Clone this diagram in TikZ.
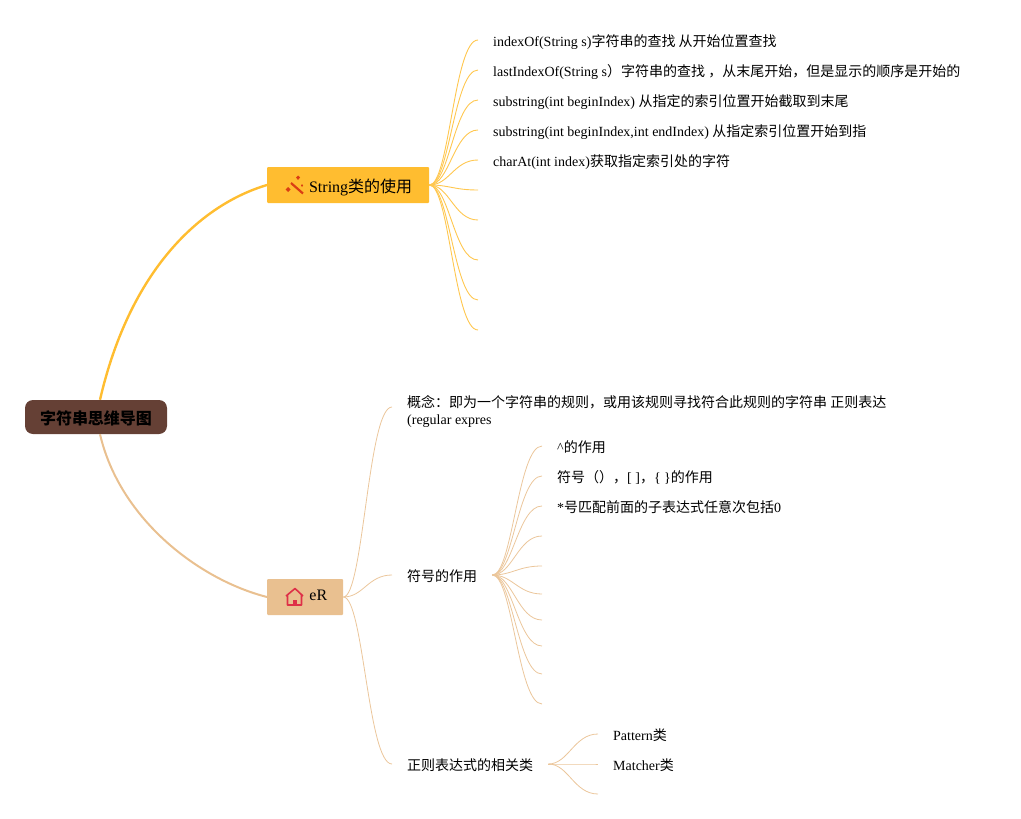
\documentclass[tikz,border=0pt]{standalone}
\usepackage{fontspec}
\setmainfont{Liberation Serif}
\newfontfamily\cjk{Noto Sans CJK SC}
\newcommand{\zh}[1]{{\cjk #1}}
\usetikzlibrary{positioning}
\definecolor{rootbrown}{RGB}{101,64,53}
\definecolor{stringgold}{RGB}{255,189,48}
\definecolor{ertan}{RGB}{233,192,144}
\definecolor{iconred}{RGB}{222,48,72}
\definecolor{wandred}{RGB}{218,62,20}
\tikzstyle{root} = [rectangle, rounded corners=8pt, minimum width=142pt, minimum height=34pt, inner sep=0pt, text height=16pt, text depth=1pt, fill=rootbrown, font=\fontsize{16}{19}\selectfont\bfseries]
\tikzstyle{topic} = [rectangle, rounded corners=1pt, minimum height=36pt, inner ysep=0pt, align=right, font=\fontsize{16}{19}\selectfont]
\tikzstyle{leaf} = [inner xsep=15pt, inner ysep=0pt, text height=14pt, text depth=1pt, anchor=west, font=\fontsize{14}{17}\selectfont]
\tikzset{curve/.style={to path={.. controls ([xshift=20pt]\tikztostart) and ([xshift=-24pt]\tikztotarget) .. (\tikztotarget)}}}
\tikzstyle{goldline} = [draw=stringgold!85, line width=0.9pt]
\tikzstyle{tanline} = [draw=ertan!90, line width=0.8pt]
\begin{document}
\begin{tikzpicture}[x=1pt, y=-1pt]
\useasboundingbox (0,0) rectangle (1021,819);
% Main nodes
\node (mapname) [root] at (96,417) {\zh{字符串思维导图}};
\node (stringuse) [topic, fill=stringgold, anchor=west, text width=128pt, inner xsep=17pt, text height=16pt, text depth=2pt] at (267,185) {String\zh{类的使用}};
\node (er) [topic, fill=ertan, anchor=west, text width=44pt, inner xsep=16pt, text height=10pt, text depth=3pt] at (267,597) {eR};

% Main branches
\draw[stringgold, line width=2.4pt] ([xshift=4pt]mapname.north) .. controls (130,270) and (200,205) .. (stringuse.west);
\draw[ertan, line width=2pt] ([xshift=4pt]mapname.south) .. controls (120,520) and (200,580) .. (er.west);

% String leaves
\node (indexof) [leaf] at (478,40) {indexOf(String s)\zh{字符串的查找 从开始位置查找}};
\node (lastindexof) [leaf] at (478,70) {lastIndexOf(String s\zh{）字符串的查找 ，从末尾开始，但是显示的顺序是开始的}};
\node (substrone) [leaf] at (478,100) {substring(int beginIndex) \zh{从指定的索引位置开始截取到末尾}};
\node (substrtwo) [leaf] at (478,130) {substring(int beginIndex,int endIndex) \zh{从指定索引位置开始到指}};
\node (charat) [leaf] at (478,160) {charAt(int index)\zh{获取指定索引处的字符}};
\coordinate (stringsix) at (478,190);
\coordinate (stringseven) at (478,220);
\coordinate (stringeight) at (478,260);
\coordinate (stringnine) at (478,300);
\coordinate (stringten) at (478,330);
\foreach \leafname in {indexof.west, lastindexof.west, substrone.west, substrtwo.west, charat.west, stringsix, stringseven, stringeight, stringnine, stringten}
  \draw[goldline] (stringuse.east) to[curve] (\leafname);

% eR children
\node (concept) [leaf, text height=, text depth=, align=left] at (392,411.5) {\zh{概念：即为一个字符串的规则，或用该规则寻找符合此规则的字符串 正则表达}\\(regular expres};
\node (symbols) [leaf] at (392,575) {\zh{符号的作用}};
\node (classes) [leaf] at (392,764) {\zh{正则表达式的相关类}};
\draw[tanline] (er.east) to[curve] ([yshift=4.5pt]concept.west);
\draw[tanline] (er.east) to[curve] (symbols.west);
\draw[tanline] (er.east) to[curve] (classes.west);

% Symbol leaves
\node (caret) [leaf] at (542,446) {\^{}\zh{的作用}};
\node (brackets) [leaf] at (542,476) {\zh{符号（），}[ ]\zh{，}\{ \}\zh{的作用}};
\node (star) [leaf] at (542,506) {*\zh{号匹配前面的子表达式任意次包括}0};
\coordinate (symbolfour) at (542,536);
\coordinate (symbolfive) at (542,566);
\coordinate (symbolsix) at (542,594);
\coordinate (symbolseven) at (542,620);
\coordinate (symboleight) at (542,646);
\coordinate (symbolnine) at (542,674);
\coordinate (symbolten) at (542,704);
\foreach \leafname in {caret.west, brackets.west, star.west, symbolfour, symbolfive, symbolsix, symbolseven, symboleight, symbolnine, symbolten}
  \draw[tanline] (symbols.east) to[curve] (\leafname);

% Class leaves
\node (pattern) [leaf] at (598,734) {Pattern\zh{类}};
\node (matcher) [leaf] at (598,764) {Matcher\zh{类}};
\coordinate (classthree) at (598,794);
\foreach \leafname in {pattern.west, matcher.west, classthree}
  \draw[tanline] (classes.east) to[curve] (\leafname);

% Icons
\draw[wandred, line width=2.2pt] (291,183) -- (303,193.5);
\fill[wandred] (298,175.5) -- (300,177.5) -- (298,180) -- (296,177.5) -- cycle;
\fill[wandred] (288,187) -- (290.5,189.5) -- (288,192) -- (285.5,189.5) -- cycle;
\fill[wandred] (302,184) -- (303,185.5) -- (302,187) -- (301,185.5) -- cycle;
\draw[iconred, line width=1.6pt, line join=round] (286,596) -- (295,588.5) -- (303,596) (287.5,595) -- (287.5,605) -- (301.5,605) -- (301.5,595);
\fill[iconred] (292.5,605) -- (292.5,600) -- (296.5,600) -- (296.5,605) -- cycle;
\end{tikzpicture}
\end{document}
